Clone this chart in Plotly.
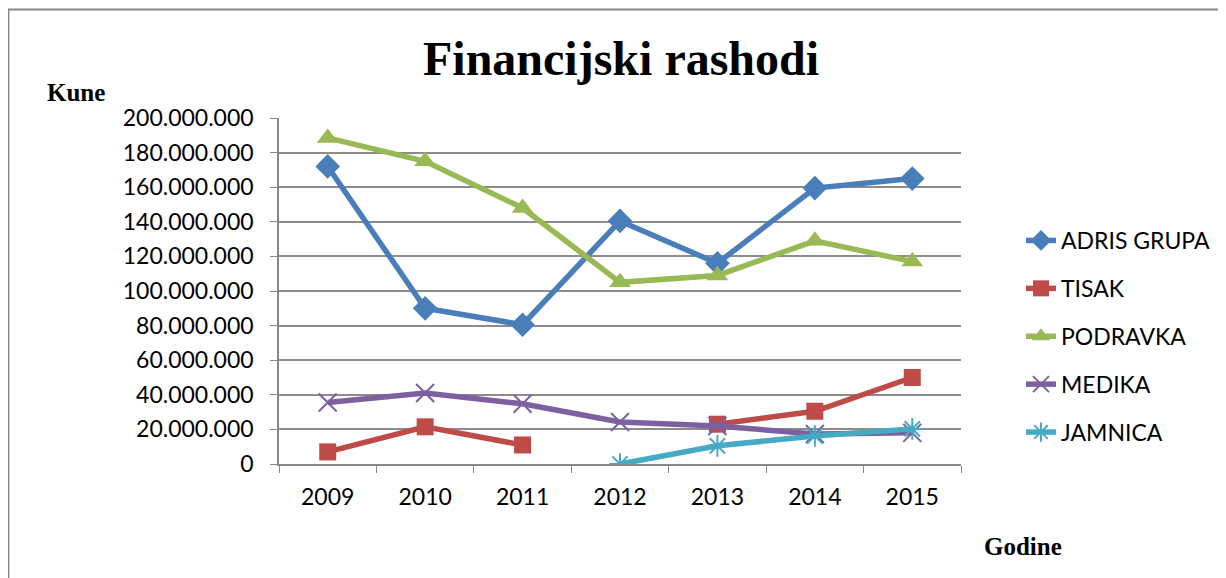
import plotly.graph_objects as go

years = ["2009", "2010", "2011", "2012", "2013", "2014", "2015"]
adris = [172_000_000, 90_000_000, 80_500_000, 140_500_000, 116_000_000, 159_500_000, 165_000_000]
tisak = [7_000_000, 21_500_000, 11_000_000, None, 23_000_000, 30_500_000, 50_000_000]
podravka = [188_500_000, 175_000_000, 148_000_000, 105_000_000, 109_000_000, 129_000_000, 117_000_000]
medika = [35_500_000, 41_000_000, 34_800_000, 24_300_000, 22_000_000, 17_300_000, 18_000_000]
jamnica = [None, None, None, 0, 10_500_000, 16_200_000, 20_300_000]

series = [
    ("ADRIS GRUPA", adris, "#4A7EBB", "diamond", 19, 0),
    ("TISAK", tisak, "#BE4B48", "square", 17, 0),
    ("PODRAVKA", podravka, "#98B954", "triangle-up", 19, 0),
    ("MEDIKA", medika, "#7D60A0", "x-thin-open", 18, 2),
    ("JAMNICA", jamnica, "#46AAC5", "asterisk-open", 18, 2),
]

fig = go.Figure()
for i, (name, vals, color, sym, size, mlw) in enumerate(series):
    fig.add_trace(go.Scatter(
        x=years, y=vals, name=name, mode="lines+markers",
        line=dict(color=color, width=5.5),
        marker=dict(symbol=sym, size=size, color=color,
                    line=dict(color=color, width=mlw)),
        connectgaps=False, legendgroup=f"g{i}",
    ))

OFF = 8  # page body margin
W, H = 1218, 570
# plot area in screen pixels
SL, SR, ST, SB = 279, 962, 118, 464
L, R, T, B = SL - OFF, SR - OFF, ST - OFF, SB - OFF
pw, ph = R - L, B - T

def px(x):  # screen px -> paper
    return (x - SL) / pw

def py(y):
    return (SB - y) / ph

fig.update_layout(
    width=W, height=H,
    margin=dict(l=L, r=W - R, t=T, b=H - B, pad=0),
    paper_bgcolor="white", plot_bgcolor="white",
    separators=",.",
    font=dict(family="Lato", size=23, color="black"),
    showlegend=True,
    legend=dict(x=px(1021), y=py(219), xanchor="left", yanchor="top",
                font=dict(family="Lato", size=23, color="black"),
                tracegroupgap=15, bgcolor="rgba(0,0,0,0)"),
    xaxis=dict(type="category", showgrid=False, showline=True, linecolor="#878787",
               linewidth=1.5, ticks="outside", tickson="boundaries", ticklen=7,
               tickcolor="#878787", tickfont=dict(family="Lato", size=23),
               ticklabelstandoff=12, range=[-0.5, 6.5]),
    yaxis=dict(range=[0, 200_000_000], dtick=20_000_000, tickformat=",.0f",
               showgrid=True, gridcolor="#8c8c8c", gridwidth=2,
               showline=True, linecolor="#878787", linewidth=1.5,
               ticks="outside", ticklen=7, tickcolor="#878787",
               tickfont=dict(family="Lato", size=23), ticklabelstandoff=12,
               zeroline=False),
    annotations=[
        dict(text="<b>Financijski rashodi</b>", x=px(622), y=py(59), xref="paper", yref="paper",
             showarrow=False, font=dict(family="Liberation Serif", size=48, color="black"),
             xanchor="center", yanchor="middle"),
        dict(text="<b>Kune</b>", x=px(45), y=py(93), xref="paper", yref="paper",
             showarrow=False, font=dict(family="Liberation Serif", size=25, color="black"),
             xanchor="left", yanchor="middle"),
        dict(text="<b>Godine</b>", x=px(983), y=py(546), xref="paper", yref="paper",
             showarrow=False, font=dict(family="Liberation Serif", size=25, color="black"),
             xanchor="left", yanchor="middle"),
    ],
    shapes=[
        dict(type="rect", xref="paper", yref="paper",
             x0=px(8), x1=px(1260), y0=py(620), y1=py(9.5),
             line=dict(color="#868686", width=2), fillcolor="rgba(0,0,0,0)", layer="below"),
    ],
)

fig.write_html("out.html")
